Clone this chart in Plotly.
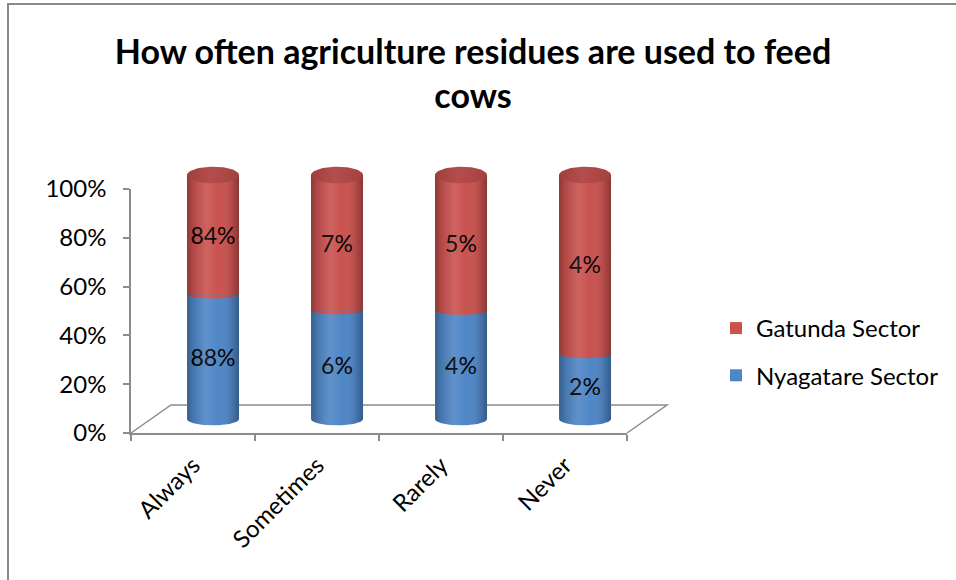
import numpy as np
import plotly.graph_objects as go

# Survey answers: how often agriculture residues are used to feed cows
categories = ["Always", "Sometimes", "Rarely", "Never"]
nyagatare = [88.0, 5.8, 4.0, 1.6]
gatunda = [84.0, 7.2, 5.0, 4.4]
series_names = ["Nyagatare Sector", "Gatunda Sector"]

W, H = 956, 580
FONT = "Lato"
BLUE = "#4F86C6"
RED = "#C9524F"
AXIS_GREY = "#8C8C8C"


def fx(p):
    return p / W


def fy(p):
    return 1 - p / H


# front wall of the 3-D box (visible axes) and the depth offset of the cylinders
FRONT_LEFT, FRONT_RIGHT = 131, 627
Y0_PX, Y100_PX = 433, 189
DEPTH_DX, DEPTH_DY = 40, -28
CYL_DX, CYL_DY = DEPTH_DX / 2, DEPTH_DY / 2
UNIT = (Y0_PX - Y100_PX) / 100.0
YLO, YHI = -8, 108

BAR_W = 0.42
E_TOP, E_MID, E_BOT = 3.4, 1.8, 2.6

share_blue = [100 * a / (a + b) for a, b in zip(nyagatare, gatunda)]

fig = go.Figure()

# invisible trace so the front axes are drawn
fig.add_trace(go.Scatter(x=categories, y=[0] * 4, mode="none", showlegend=False,
                         hoverinfo="skip", xaxis="x", yaxis="y"))

# cylinder bodies: 100 % stacked bars
for rank, (name, vals, col) in zip([2, 1], [(series_names[0], nyagatare, BLUE),
                                           (series_names[1], gatunda, RED)]):
    fig.add_trace(go.Bar(
        x=categories, y=vals, name=name, width=BAR_W,
        marker=dict(color=col, line=dict(width=0)),
        text=[f"{v:.0f}%" for v in vals], textposition="inside",
        insidetextanchor="middle", textangle=0,
        textfont=dict(family=FONT, size=23, color="black"),
        legendgroup=name, legendrank=rank, xaxis="x2", yaxis="y2",
    ))


def half_arc(cx, cy, e, n=40):
    t = np.linspace(np.pi, 2 * np.pi, n)
    return cx + BAR_W / 2 * np.cos(t), cy + e * np.sin(t)


def ellipse(cx, cy, e, n=80):
    t = np.linspace(0, 2 * np.pi, n)
    return cx + BAR_W / 2 * np.cos(t), cy + e * np.sin(t)


# bottom caps (blue) and front arc of the red segment over the blue one
bx, by, mx, my = [], [], [], []
for i, s in enumerate(share_blue):
    ax, ay = half_arc(i, 0, E_BOT)
    bx += list(ax) + [None]
    by += list(ay) + [None]
    ax, ay = half_arc(i, s, E_MID)
    mx += list(ax) + [None]
    my += list(ay) + [None]
fig.add_trace(go.Scatter(x=bx, y=by, mode="lines", line=dict(width=0), fill="toself",
                         fillcolor=BLUE, showlegend=False, hoverinfo="skip",
                         xaxis="x3", yaxis="y2"))
fig.add_trace(go.Scatter(x=mx, y=my, mode="lines", line=dict(width=0), fill="toself",
                         fillcolor=RED, showlegend=False, hoverinfo="skip",
                         xaxis="x3", yaxis="y2"))

# round shading across each cylinder
for i in range(len(categories)):
    ax, ay = half_arc(i, 0, E_BOT)
    xs = [i - BAR_W / 2] + list(ax) + [i + BAR_W / 2, i - BAR_W / 2]
    ys = [100] + list(ay) + [100, 100]
    fig.add_trace(go.Scatter(
        x=xs, y=ys, mode="lines", line=dict(width=0), fill="toself",
        fillgradient=dict(type="horizontal", colorscale=[
            [0.0, "rgba(0,0,0,0.30)"], [0.12, "rgba(0,0,0,0.12)"],
            [0.38, "rgba(255,255,255,0.10)"], [0.6, "rgba(255,255,255,0.0)"],
            [0.88, "rgba(0,0,0,0.14)"], [1.0, "rgba(0,0,0,0.32)"]]),
        showlegend=False, hoverinfo="skip", xaxis="x3", yaxis="y2"))

# top caps
for i in range(len(categories)):
    ex, ey = ellipse(i, 100, E_TOP)
    fig.add_trace(go.Scatter(
        x=ex, y=ey, mode="lines", line=dict(width=0), fill="toself",
        fillgradient=dict(type="horizontal", colorscale=[
            [0.0, "#9E3F3D"], [0.45, "#B54D4B"], [1.0, "#A24240"]]),
        showlegend=False, hoverinfo="skip", xaxis="x3", yaxis="y2"))

# floor of the 3-D box
floor_path = (f"M {fx(FRONT_LEFT)},{fy(Y0_PX)} "
              f"L {fx(FRONT_LEFT + DEPTH_DX)},{fy(Y0_PX + DEPTH_DY)} "
              f"L {fx(FRONT_RIGHT + DEPTH_DX)},{fy(Y0_PX + DEPTH_DY)} "
              f"L {fx(FRONT_RIGHT)},{fy(Y0_PX)}")
shapes = [
    dict(type="path", path=floor_path, xref="paper", yref="paper",
         line=dict(color=AXIS_GREY, width=1.5), layer="below"),
    dict(type="rect", xref="paper", yref="paper", x0=fx(8), y0=-0.05, x1=1.05, y1=fy(4),
         line=dict(color="#8A8A8A", width=2), layer="below"),
]

cyl_x_domain = [fx(FRONT_LEFT + CYL_DX), fx(FRONT_RIGHT + CYL_DX)]

fig.update_layout(
    width=W, height=H,
    margin=dict(l=0, r=0, t=0, b=0, pad=0, autoexpand=False),
    paper_bgcolor="white", plot_bgcolor="rgba(0,0,0,0)",
    barmode="stack", barnorm="percent",
    font=dict(family=FONT, size=22, color="black"),
    title=dict(text="<b>How often agriculture residues are used to feed<br>cows</b>",
               x=fx(473), xanchor="center", y=fy(64), yanchor="middle",
               font=dict(family=FONT, size=34, color="black"), automargin=False),
    xaxis=dict(domain=[fx(FRONT_LEFT), fx(FRONT_RIGHT)], type="category",
               categoryorder="array", categoryarray=categories, range=[-0.5, 3.5],
               showline=True, linecolor=AXIS_GREY, linewidth=1.5,
               ticks="outside", ticklen=6, tickcolor=AXIS_GREY, tickwidth=1.5,
               tickson="boundaries", tickangle=-45, showgrid=False, zeroline=False,
               ticklabelstandoff=7,
               tickfont=dict(family=FONT, size=24, color="black"), fixedrange=True),
    yaxis=dict(domain=[fy(Y0_PX), fy(Y100_PX)], range=[0, 100], dtick=20,
               ticksuffix="%", showline=True, linecolor=AXIS_GREY, linewidth=1.5,
               ticks="outside", ticklen=6, tickcolor=AXIS_GREY, tickwidth=1.5,
               showgrid=False, zeroline=False, ticklabelstandoff=12,
               tickfont=dict(family=FONT, size=24, color="black"), fixedrange=True),
    xaxis2=dict(domain=cyl_x_domain, type="category", categoryorder="array",
                categoryarray=categories, range=[-0.5, 3.5], visible=False,
                anchor="y2", fixedrange=True),
    xaxis3=dict(domain=cyl_x_domain, range=[-0.5, 3.5], visible=False,
                anchor="y2", overlaying="x2", fixedrange=True),
    yaxis2=dict(domain=[fy(Y0_PX + CYL_DY - YLO * UNIT), fy(Y100_PX + CYL_DY - (YHI - 100) * UNIT)],
                range=[YLO, YHI], visible=False, anchor="x2", fixedrange=True),
    legend=dict(x=fx(716), y=fy(306), xanchor="left", yanchor="top",
                traceorder="grouped", tracegroupgap=13,
                font=dict(family=FONT, size=24, color="black"),
                bgcolor="rgba(0,0,0,0)"),
    shapes=shapes,
    showlegend=True,
)

fig.write_html("out.html")
